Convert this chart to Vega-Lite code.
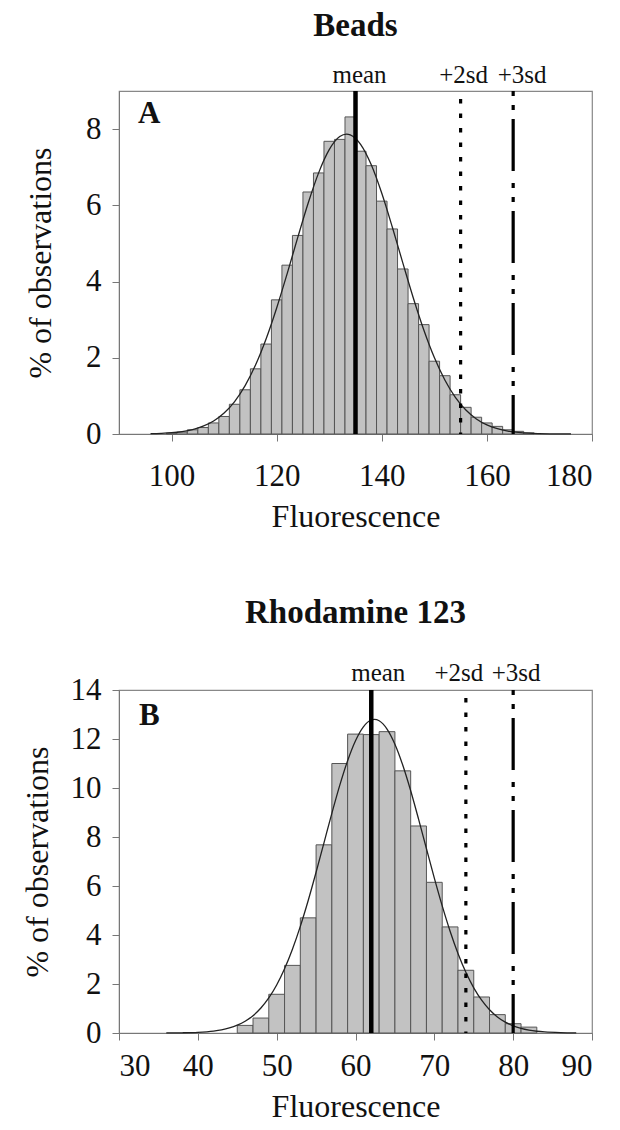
{
  "$schema": "https://vega.github.io/schema/vega-lite/v6.json",
  "background": "white",
  "padding": {"left": 20, "top": 9, "right": 0, "bottom": 0},
  "spacing": 63,
  "config": {
    "font": "Liberation Serif",
    "view": {"stroke": "#888", "strokeWidth": 1.2},
    "axis": {"grid": false, "labelFont": "Liberation Serif", "labelFontSize": 31, "labelColor": "#111", "titleFont": "Liberation Serif", "titleFontSize": 32, "titleFontWeight": "normal", "titleColor": "#111", "domainColor": "#777", "tickColor": "#777", "tickSize": 7, "labelPadding": 11, "titlePadding": 10},
    "title": {"font": "Liberation Serif", "fontSize": 33, "fontWeight": "bold", "color": "#111"}
  },
  "datasets": {
    "beadsBars": [
      {"lo": 99, "hi": 101, "pct": 0.02}, {"lo": 101, "hi": 103, "pct": 0.05}, {"lo": 103, "hi": 105, "pct": 0.11},
      {"lo": 105, "hi": 107, "pct": 0.17}, {"lo": 107, "hi": 109, "pct": 0.29}, {"lo": 109, "hi": 111, "pct": 0.46},
      {"lo": 111, "hi": 113, "pct": 0.78}, {"lo": 113, "hi": 115, "pct": 1.16}, {"lo": 115, "hi": 117, "pct": 1.71},
      {"lo": 117, "hi": 119, "pct": 2.36}, {"lo": 119, "hi": 121, "pct": 3.52}, {"lo": 121, "hi": 123, "pct": 4.43},
      {"lo": 123, "hi": 125, "pct": 5.21}, {"lo": 125, "hi": 127, "pct": 6.35}, {"lo": 127, "hi": 129, "pct": 6.85},
      {"lo": 129, "hi": 131, "pct": 7.68}, {"lo": 131, "hi": 133, "pct": 7.73}, {"lo": 133, "hi": 135, "pct": 8.32},
      {"lo": 135, "hi": 137, "pct": 7.42}, {"lo": 137, "hi": 139, "pct": 7.04}, {"lo": 139, "hi": 141, "pct": 6.11},
      {"lo": 141, "hi": 143, "pct": 5.38}, {"lo": 143, "hi": 145, "pct": 4.33}, {"lo": 145, "hi": 147, "pct": 3.42},
      {"lo": 147, "hi": 149, "pct": 2.87}, {"lo": 149, "hi": 151, "pct": 1.91}, {"lo": 151, "hi": 153, "pct": 1.53},
      {"lo": 153, "hi": 155, "pct": 1.03}, {"lo": 155, "hi": 157, "pct": 0.70}, {"lo": 157, "hi": 159, "pct": 0.44},
      {"lo": 159, "hi": 161, "pct": 0.29}, {"lo": 161, "hi": 163, "pct": 0.20}, {"lo": 163, "hi": 165, "pct": 0.11},
      {"lo": 165, "hi": 167, "pct": 0.07}, {"lo": 167, "hi": 169, "pct": 0.03}
    ],
    "beadsCurve": [
      {"x": 96, "pct": 0.009}, {"x": 98, "pct": 0.018}, {"x": 100, "pct": 0.034}, {"x": 102, "pct": 0.065},
      {"x": 104, "pct": 0.117}, {"x": 106, "pct": 0.204}, {"x": 108, "pct": 0.342}, {"x": 110, "pct": 0.55},
      {"x": 112, "pct": 0.851}, {"x": 114, "pct": 1.268}, {"x": 116, "pct": 1.815}, {"x": 118, "pct": 2.499},
      {"x": 120, "pct": 3.307}, {"x": 122, "pct": 4.209}, {"x": 124, "pct": 5.151}, {"x": 126, "pct": 6.061},
      {"x": 128, "pct": 6.858}, {"x": 130, "pct": 7.461}, {"x": 132, "pct": 7.805}, {"x": 133.3, "pct": 7.87},
      {"x": 134, "pct": 7.851}, {"x": 136, "pct": 7.594}, {"x": 138, "pct": 7.063}, {"x": 140, "pct": 6.316},
      {"x": 142, "pct": 5.431}, {"x": 144, "pct": 4.49}, {"x": 146, "pct": 3.57}, {"x": 148, "pct": 2.729},
      {"x": 150, "pct": 2.006}, {"x": 152, "pct": 1.418}, {"x": 154, "pct": 0.964}, {"x": 156, "pct": 0.63},
      {"x": 158, "pct": 0.396}, {"x": 160, "pct": 0.239}, {"x": 162, "pct": 0.139}, {"x": 164, "pct": 0.078},
      {"x": 166, "pct": 0.042}, {"x": 168, "pct": 0.021}, {"x": 170, "pct": 0.011}, {"x": 172, "pct": 0.005},
      {"x": 174, "pct": 0.002}, {"x": 176, "pct": 0.001}
    ],
    "beadsLines": [
      {"stat": "mean", "x": 135}, {"stat": "+2sd", "x": 155}, {"stat": "+3sd", "x": 165}
    ],
    "beadsPanel": [{"panel": "A"}],
    "rhoBars": [
      {"lo": 45, "hi": 47, "pct": 0.31}, {"lo": 47, "hi": 49, "pct": 0.61}, {"lo": 49, "hi": 51, "pct": 1.58},
      {"lo": 51, "hi": 53, "pct": 2.76}, {"lo": 53, "hi": 55, "pct": 4.70}, {"lo": 55, "hi": 57, "pct": 7.68},
      {"lo": 57, "hi": 59, "pct": 11.0}, {"lo": 59, "hi": 61, "pct": 12.2}, {"lo": 61, "hi": 63, "pct": 12.18},
      {"lo": 63, "hi": 65, "pct": 12.3}, {"lo": 65, "hi": 67, "pct": 10.7}, {"lo": 67, "hi": 69, "pct": 8.45},
      {"lo": 69, "hi": 71, "pct": 6.15}, {"lo": 71, "hi": 73, "pct": 4.33}, {"lo": 73, "hi": 75, "pct": 2.56},
      {"lo": 75, "hi": 77, "pct": 1.47}, {"lo": 77, "hi": 79, "pct": 0.75}, {"lo": 79, "hi": 81, "pct": 0.38},
      {"lo": 81, "hi": 83, "pct": 0.24}
    ],
    "rhoCurve": [
      {"x": 36, "pct": 0.003}, {"x": 38, "pct": 0.009}, {"x": 40, "pct": 0.028}, {"x": 42, "pct": 0.08},
      {"x": 43, "pct": 0.129}, {"x": 44, "pct": 0.205}, {"x": 45, "pct": 0.318}, {"x": 46, "pct": 0.48},
      {"x": 47, "pct": 0.708}, {"x": 48, "pct": 1.019}, {"x": 49, "pct": 1.43}, {"x": 50, "pct": 1.958},
      {"x": 51, "pct": 2.62}, {"x": 52, "pct": 3.419}, {"x": 53, "pct": 4.353}, {"x": 54, "pct": 5.409},
      {"x": 55, "pct": 6.56}, {"x": 56, "pct": 7.763}, {"x": 57, "pct": 8.966}, {"x": 58, "pct": 10.106},
      {"x": 59, "pct": 11.115}, {"x": 60, "pct": 11.931}, {"x": 61, "pct": 12.498}, {"x": 62, "pct": 12.775},
      {"x": 62.4, "pct": 12.8}, {"x": 63, "pct": 12.744}, {"x": 64, "pct": 12.406}, {"x": 65, "pct": 11.786},
      {"x": 66, "pct": 10.927}, {"x": 67, "pct": 9.887}, {"x": 68, "pct": 8.728}, {"x": 69, "pct": 7.521},
      {"x": 70, "pct": 6.324}, {"x": 71, "pct": 5.189}, {"x": 72, "pct": 4.156}, {"x": 73, "pct": 3.248},
      {"x": 74, "pct": 2.477}, {"x": 75, "pct": 1.843}, {"x": 76, "pct": 1.339}, {"x": 77, "pct": 0.949},
      {"x": 78, "pct": 0.656}, {"x": 79, "pct": 0.443}, {"x": 80, "pct": 0.292}, {"x": 81, "pct": 0.188},
      {"x": 82, "pct": 0.118}, {"x": 83, "pct": 0.072}, {"x": 84, "pct": 0.043}, {"x": 86, "pct": 0.014},
      {"x": 88, "pct": 0.004}
    ],
    "rhoLines": [
      {"stat": "mean", "x": 62}, {"stat": "+2sd", "x": 74}, {"stat": "+3sd", "x": 80}
    ],
    "rhoPanel": [{"panel": "B"}]
  },
  "vconcat": [
    {
      "title": {"text": "Beads", "offset": 20},
      "width": 473,
      "height": 343,
      "layer": [
        {
          "data": {"name": "beadsBars"},
          "mark": {"type": "bar", "fill": "#c2c2c2", "stroke": "#555", "strokeWidth": 1},
          "encoding": {
            "x": {"field": "lo", "type": "quantitative", "scale": {"domain": [90, 180], "nice": false, "zero": false}, "axis": {"values": [100, 120, 140, 160, 180], "title": "Fluorescence", "labelPadding": 20}},
            "x2": {"field": "hi"},
            "y": {"field": "pct", "type": "quantitative", "scale": {"domain": [0, 9], "nice": false}, "axis": {"values": [0, 2, 4, 6, 8], "title": "% of observations", "titlePadding": 28}},
            "y2": {"datum": 0}
          }
        },
        {
          "data": {"name": "beadsCurve"},
          "mark": {"type": "line", "color": "#222", "strokeWidth": 1.3, "interpolate": "monotone"},
          "encoding": {"x": {"field": "x", "type": "quantitative"}, "y": {"field": "pct", "type": "quantitative"}}
        },
        {
          "data": {"name": "beadsLines"},
          "transform": [{"filter": "datum.stat === 'mean'"}],
          "mark": {"type": "rule", "color": "#000", "strokeWidth": 4.5},
          "encoding": {"x": {"field": "x", "type": "quantitative"}, "y": {"datum": 9}, "y2": {"datum": 0}}
        },
        {
          "data": {"name": "beadsLines"},
          "transform": [{"filter": "datum.stat === '+2sd'"}],
          "mark": {"type": "rule", "color": "#000", "strokeWidth": 3.2, "strokeDash": [4.5, 10], "strokeDashOffset": -8},
          "encoding": {"x": {"field": "x", "type": "quantitative"}, "y": {"datum": 9}, "y2": {"datum": 0}}
        },
        {
          "data": {"name": "beadsLines"},
          "transform": [{"filter": "datum.stat === '+3sd'"}],
          "mark": {"type": "rule", "color": "#000", "strokeWidth": 3.2, "strokeDash": [5, 9, 5, 9, 52, 12]},
          "encoding": {"x": {"field": "x", "type": "quantitative"}, "y": {"datum": 9}, "y2": {"datum": 0}}
        },
        {
          "data": {"name": "beadsLines"},
          "transform": [{"filter": "datum.stat === 'mean'"}],
          "mark": {"type": "text", "fontSize": 25, "align": "center", "baseline": "alphabetic", "dx": 4, "dy": -8.4, "color": "#111"},
          "encoding": {"x": {"field": "x", "type": "quantitative"}, "y": {"datum": 9}, "text": {"field": "stat"}}
        },
        {
          "data": {"name": "beadsLines"},
          "transform": [{"filter": "datum.stat === '+2sd'"}],
          "mark": {"type": "text", "fontSize": 25, "align": "center", "baseline": "alphabetic", "dx": 3, "dy": -8.4, "color": "#111"},
          "encoding": {"x": {"field": "x", "type": "quantitative"}, "y": {"datum": 9}, "text": {"field": "stat"}}
        },
        {
          "data": {"name": "beadsLines"},
          "transform": [{"filter": "datum.stat === '+3sd'"}],
          "mark": {"type": "text", "fontSize": 25, "align": "center", "baseline": "alphabetic", "dx": 9, "dy": -8.4, "color": "#111"},
          "encoding": {"x": {"field": "x", "type": "quantitative"}, "y": {"datum": 9}, "text": {"field": "stat"}}
        },
        {
          "data": {"name": "beadsPanel"},
          "mark": {"type": "text", "fontSize": 31, "fontWeight": "bold", "align": "left", "baseline": "alphabetic", "dx": 19, "dy": 31.6, "color": "#111"},
          "encoding": {"x": {"datum": 90}, "y": {"datum": 9}, "text": {"field": "panel"}}
        }
      ]
    },
    {
      "title": {"text": "Rhodamine 123", "offset": 31},
      "width": 473,
      "height": 343,
      "layer": [
        {
          "data": {"name": "rhoBars"},
          "mark": {"type": "bar", "fill": "#c2c2c2", "stroke": "#555", "strokeWidth": 1},
          "encoding": {
            "x": {"field": "lo", "type": "quantitative", "scale": {"domain": [30, 90], "nice": false, "zero": false}, "axis": {"values": [30, 40, 50, 60, 70, 80, 90], "title": "Fluorescence"}},
            "x2": {"field": "hi"},
            "y": {"field": "pct", "type": "quantitative", "scale": {"domain": [0, 14], "nice": false}, "axis": {"values": [0, 2, 4, 6, 8, 10, 12, 14], "title": "% of observations", "titlePadding": 16}},
            "y2": {"datum": 0}
          }
        },
        {
          "data": {"name": "rhoCurve"},
          "mark": {"type": "line", "color": "#222", "strokeWidth": 1.3, "interpolate": "monotone"},
          "encoding": {"x": {"field": "x", "type": "quantitative"}, "y": {"field": "pct", "type": "quantitative"}}
        },
        {
          "data": {"name": "rhoLines"},
          "transform": [{"filter": "datum.stat === 'mean'"}],
          "mark": {"type": "rule", "color": "#000", "strokeWidth": 4.5},
          "encoding": {"x": {"field": "x", "type": "quantitative"}, "y": {"datum": 14}, "y2": {"datum": 0}}
        },
        {
          "data": {"name": "rhoLines"},
          "transform": [{"filter": "datum.stat === '+2sd'"}],
          "mark": {"type": "rule", "color": "#000", "strokeWidth": 3.2, "strokeDash": [4.5, 10], "strokeDashOffset": -8},
          "encoding": {"x": {"field": "x", "type": "quantitative"}, "y": {"datum": 14}, "y2": {"datum": 0}}
        },
        {
          "data": {"name": "rhoLines"},
          "transform": [{"filter": "datum.stat === '+3sd'"}],
          "mark": {"type": "rule", "color": "#000", "strokeWidth": 3.2, "strokeDash": [5, 9, 5, 9, 52, 12]},
          "encoding": {"x": {"field": "x", "type": "quantitative"}, "y": {"datum": 14}, "y2": {"datum": 0}}
        },
        {
          "data": {"name": "rhoLines"},
          "transform": [{"filter": "datum.stat === 'mean'"}],
          "mark": {"type": "text", "fontSize": 25, "align": "center", "baseline": "alphabetic", "dx": 7, "dy": -8.7, "color": "#111"},
          "encoding": {"x": {"field": "x", "type": "quantitative"}, "y": {"datum": 14}, "text": {"field": "stat"}}
        },
        {
          "data": {"name": "rhoLines"},
          "transform": [{"filter": "datum.stat === '+2sd'"}],
          "mark": {"type": "text", "fontSize": 25, "align": "center", "baseline": "alphabetic", "dx": -7, "dy": -8.7, "color": "#111"},
          "encoding": {"x": {"field": "x", "type": "quantitative"}, "y": {"datum": 14}, "text": {"field": "stat"}}
        },
        {
          "data": {"name": "rhoLines"},
          "transform": [{"filter": "datum.stat === '+3sd'"}],
          "mark": {"type": "text", "fontSize": 25, "align": "center", "baseline": "alphabetic", "dx": 3, "dy": -8.7, "color": "#111"},
          "encoding": {"x": {"field": "x", "type": "quantitative"}, "y": {"datum": 14}, "text": {"field": "stat"}}
        },
        {
          "data": {"name": "rhoPanel"},
          "mark": {"type": "text", "fontSize": 31, "fontWeight": "bold", "align": "left", "baseline": "alphabetic", "dx": 20, "dy": 35.3, "color": "#111"},
          "encoding": {"x": {"datum": 30}, "y": {"datum": 14}, "text": {"field": "panel"}}
        }
      ]
    }
  ]
}
